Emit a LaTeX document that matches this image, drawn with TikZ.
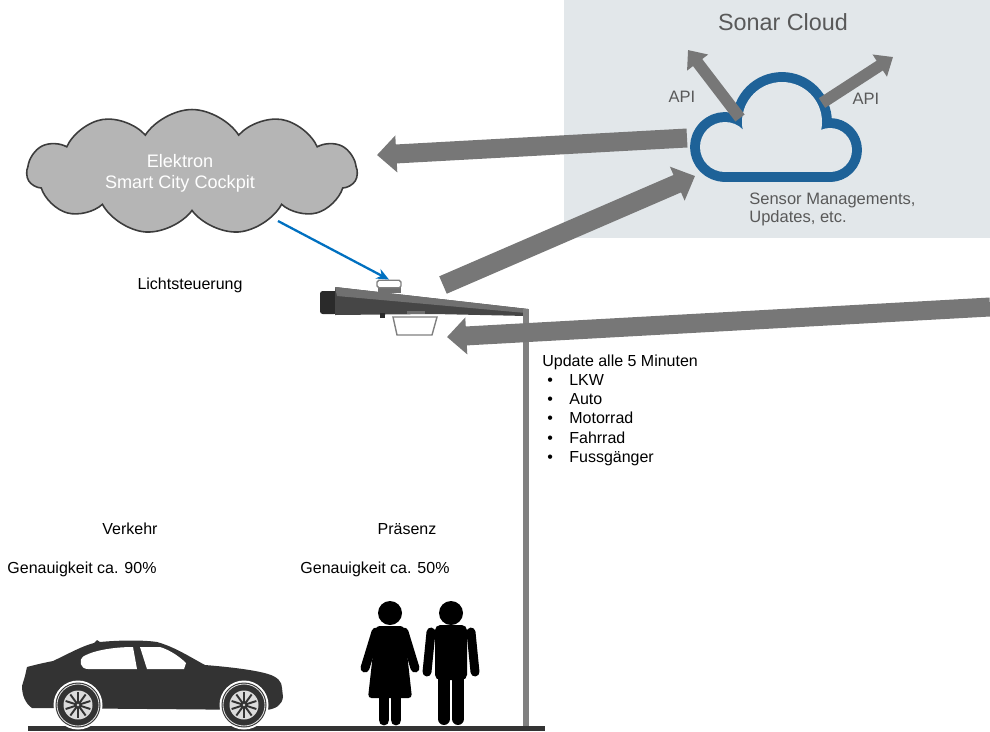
\documentclass[tikz,border=0pt]{standalone}
\usepackage{tikz}
\usepackage{xcolor}
\usepackage{fontspec}
\setmainfont{Liberation Sans}
\usetikzlibrary{arrows.meta,shapes.symbols}
\definecolor{panelgray}{RGB}{226,231,234}
\definecolor{sonarblue}{RGB}{30,98,152}
\definecolor{flowgray}{RGB}{119,119,119}
\definecolor{cockpitgray}{RGB}{181,181,181}
\definecolor{cockpitline}{RGB}{60,60,60}
\definecolor{textgray}{RGB}{89,89,89}
\definecolor{controlblue}{RGB}{0,112,192}
\definecolor{cardark}{RGB}{51,51,51}
\definecolor{rimgray}{RGB}{220,220,220}
\definecolor{polegray}{RGB}{128,128,128}
\definecolor{lampdark}{RGB}{42,42,42}
\definecolor{lampmid}{RGB}{70,70,70}
\definecolor{lamplight}{RGB}{112,112,112}

\begin{document}
\begin{tikzpicture}[x=0.02cm, y=-0.02cm]
    \tikzstyle{plaintext} = [inner sep=0, font=\fontsize{9.1}{11}\selectfont]
    \tikzstyle{flow} = [flowgray, line width=10.8pt, -{Triangle[width=20.4pt,length=11pt]}]
    \tikzstyle{api} = [flowgray, line width=6.6pt, -{Triangle[width=14.5pt,length=9pt]}]
    \tikzstyle{limb} = [line width=5.1pt, line cap=round]
    \tikzstyle{ring} = [sonarblue, line width=11.3pt, line join=round]

    \useasboundingbox (0,0) rectangle (990,731);

    % sonar cloud panel
    \fill[panelgray] (564,0) rectangle (990,238);
    \node[inner sep=0, font=\fontsize{13.3}{16}\selectfont, text=textgray, anchor=base] (sonartitle) at (783,30.4) {Sonar Cloud};

    \draw[ring] (725,147) circle (25);
    \draw[ring] (782,122) circle (40);
    \draw[ring] (830,150) circle (22);
    \draw[ring] (725,140) rectangle (830,172);
    \fill[panelgray] (725,147) circle (25);
    \fill[panelgray] (782,122) circle (40);
    \fill[panelgray] (830,150) circle (22);
    \fill[panelgray] (725,140) rectangle (830,172);

    \coordinate (apileftstart) at (740,118);
    \coordinate (apileftend) at (688,50);
    \coordinate (apirightstart) at (822,103);
    \coordinate (apirightend) at (893,57);
    \draw[api] (apileftstart) -- (apileftend);
    \draw[api] (apirightstart) -- (apirightend);
    \node[plaintext, font=\fontsize{9.4}{11}\selectfont, text=textgray, anchor=base] (apileft) at (682,102) {API};
    \node[plaintext, font=\fontsize{9.4}{11}\selectfont, text=textgray, anchor=base] (apiright) at (866,104) {API};
    \node[plaintext, font=\fontsize{9.4}{11}\selectfont, text=textgray, anchor=base west] (sensormgmt) at (749,204) {Sensor Managements,};
    \node[plaintext, font=\fontsize{9.4}{11}\selectfont, text=textgray, anchor=base west] (updates) at (749,222) {Updates, etc.};

    % cockpit
    \node[cloud, cloud puffs=11, cloud puff arc=115, aspect=2.6, draw=cockpitline, fill=cockpitgray, line width=0.9pt, minimum width=6.6cm, minimum height=2.5cm] (cockpit) at (192,172) {};
    \node[plaintext, font=\fontsize{10.3}{12}\selectfont, text=white, anchor=base] (cockpittop) at (180,167) {Elektron};
    \node[plaintext, font=\fontsize{10.3}{12}\selectfont, text=white, anchor=base] (cockpitbottom) at (180,188) {Smart City Cockpit};

    \node[plaintext, anchor=base] (lichtsteuerung) at (190,289) {Lichtsteuerung};

    % street light
    \fill[lampdark, rounded corners=1.5pt] (320,291) rectangle (337,314);
    \fill[lampmid] (335,287) -- (528,309) -- (527,316) -- (434,314) -- (335,315) -- cycle;
    \fill[lamplight] (335,287) -- (528,309) -- (526,313) -- (337,296) -- cycle;
    \fill[lamplight] (407,311) rectangle (425,314);
    \fill[lampdark] (380,313) rectangle (385,318);
    \draw[polegray, fill=white, line width=0.8pt] (393,317) -- (437,317) -- (432,335) -- (397,335) -- cycle;
    \fill[lamplight] (378,287) rectangle (401,293);
    \node[draw=polegray, fill=white, line width=0.8pt, rounded corners=1pt, minimum width=0.48cm, minimum height=0.15cm, inner sep=0] (sensor) at (389,284) {};
    \draw[polegray, line width=3.4pt] (526,309) -- (526,729);

    \coordinate (cockpitfoot) at (278,221);
    \draw[controlblue, line width=1.3pt, -{Stealth[length=7pt,width=6pt]}] (cockpitfoot) -- (sensor.north);

    % ground
    \fill[cardark] (28,726) rectangle (545,731);

    % texts
    \node[plaintext, anchor=base west] (interval) at (542,366) {Update alle 5 Minuten};
    \foreach \entry [count=\i] in {LKW,Auto,Motorrad,Fahrrad,Fussgänger} {
        \node[plaintext, anchor=base west] (bullet\i) at (547,{366+19.25*\i}) {\textbullet};
        \node[plaintext, anchor=base west] (vehicle\i) at (569,{366+19.25*\i}) {\entry};
    }
    \node[plaintext, anchor=base] (verkehr) at (130,534) {Verkehr};
    \node[plaintext, anchor=base] (praesenz) at (407,534) {Präsenz};
    \node[plaintext, anchor=base] (accuracycar) at (82,573) {Genauigkeit ca. 90\%};
    \node[plaintext, anchor=base] (accuracypeople) at (375,573) {Genauigkeit ca. 50\%};

    % car
    \fill[cardark] (32,708)
        .. controls (25,703) and (22,695) .. (22,686)
        -- (25,676) -- (27,667)
        .. controls (38,664) and (48,662) .. (53,661)
        .. controls (68,654) and (82,646) .. (94,643)
        -- (97,640) -- (100,642)
        .. controls (120,640) and (145,640) .. (157,642)
        .. controls (175,647) and (190,657) .. (205,665)
        .. controls (230,667) and (255,670) .. (268,674)
        .. controls (278,677) and (282,682) .. (282,688)
        -- (283,697)
        .. controls (282,705) and (276,709) .. (266,710)
        -- cycle;
    \fill[white] (133,647) -- (137,669) -- (88,669)
        .. controls (80,669) and (78,660) .. (84,656)
        .. controls (95,650) and (115,647) .. (133,647) -- cycle;
    \fill[white] (140,647) -- (160,647)
        .. controls (170,650) and (180,657) .. (186,663)
        -- (184,669) -- (147,669) -- cycle;
    \coordinate (rearwheel) at (78,705);
    \coordinate (frontwheel) at (244,705);
    \foreach \w in {rearwheel,frontwheel} {
        \fill[white] (\w) circle (24.5);
        \fill[cardark] (\w) circle (22.5);
        \draw[rimgray, line width=0.5pt] (\w) circle (21);
        \fill[rimgray] (\w) circle (14.5);
        \foreach \a in {0,36,...,324}
            \draw[cardark, line width=1.1pt] (\w) -- ++({\a+18}:13);
        \fill[cardark] (\w) circle (4);
        \fill[rimgray] (\w) circle (1.3);
    }

    % people
    \fill (390,613) circle (12);
    \fill[rounded corners=2pt] (376,626) -- (404,626) -- (412,698) -- (368,698) -- cycle;
    \draw[limb] (376,632) -- (365,668);
    \draw[limb] (404,632) -- (415,668);
    \draw[limb, line width=6.2pt] (384,698) -- (384,720);
    \draw[limb, line width=6.2pt] (396,698) -- (396,720);

    \fill (451,613) circle (12);
    \fill[rounded corners=3pt] (435,625) rectangle (467,680);
    \draw[limb] (431,632) -- (427,672);
    \draw[limb] (471,632) -- (475,672);
    \draw[limb, line width=6.8pt] (444,678) -- (444,719);
    \draw[limb, line width=6.8pt] (458,678) -- (458,719);

    % data flows
    \coordinate (sonarwest) at (687,138);
    \coordinate (cockpiteast) at (377,155);
    \coordinate (lamptop) at (443,285);
    \coordinate (sonarsouthwest) at (695,176);
    \coordinate (feedin) at (990,307);
    \coordinate (lampfront) at (447,337);
    \draw[flow] (sonarwest) -- (cockpiteast);
    \draw[flow] (lamptop) -- (sonarsouthwest);
    \draw[flow] (feedin) -- (lampfront);
\end{tikzpicture}
\end{document}
